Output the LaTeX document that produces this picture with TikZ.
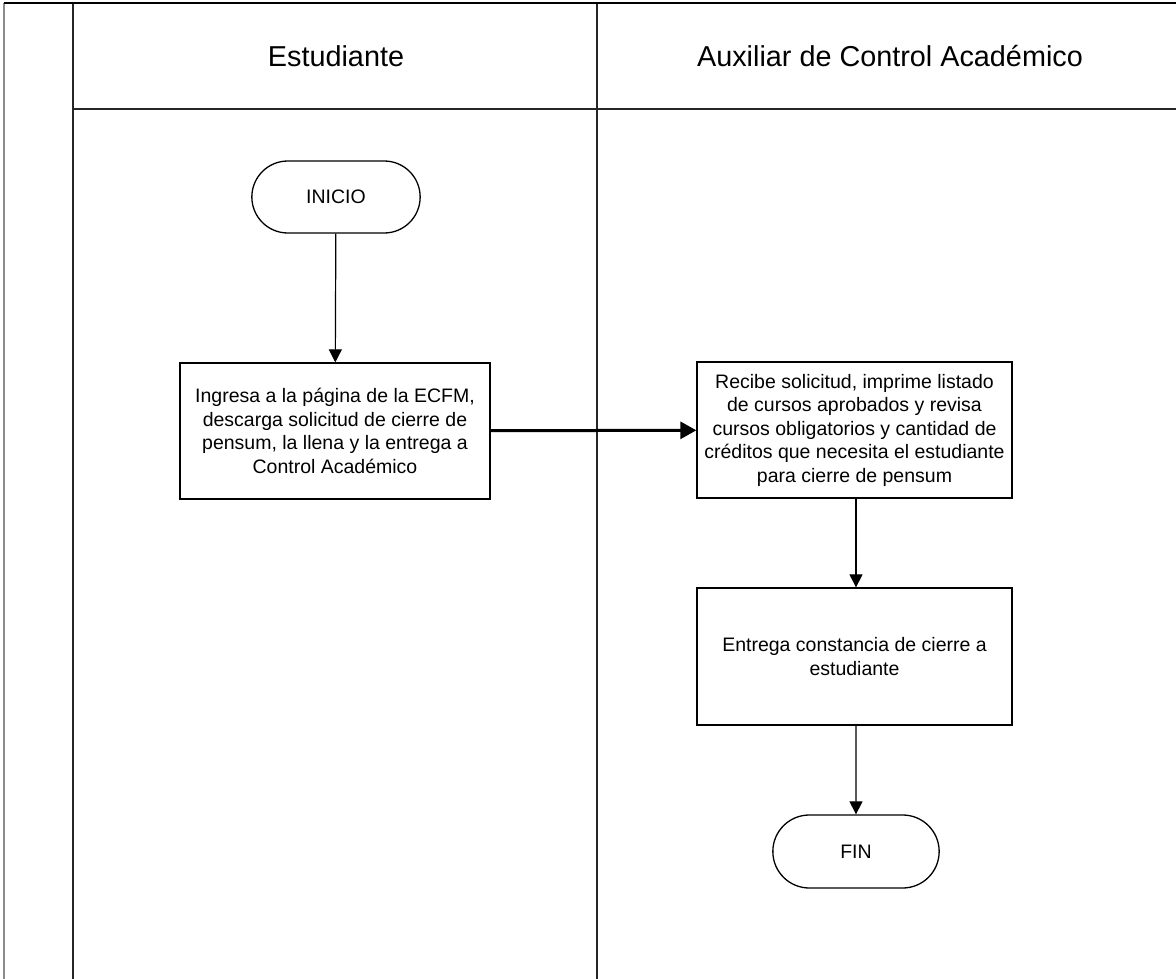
\documentclass[tikz,border=0pt]{standalone}
\usepackage{fontspec}
\setmainfont{Liberation Sans}
\usetikzlibrary{arrows.meta,shapes.misc}
\begin{document}
\begin{tikzpicture}[x=1pt,y=-1pt,
  lane/.style={line width=2pt,draw=black!85},
  proc/.style={draw,line width=1.3pt,rectangle,minimum width=310pt,minimum height=136pt,
    align=center,font=\fontsize{19.5pt}{23.5pt}\selectfont,inner sep=2pt},
  term/.style={draw,line width=1.3pt,rounded rectangle,minimum width=175pt,minimum height=72pt,
    font=\fontsize{19.5pt}{23.5pt}\selectfont},
  flow/.style={line width=1.2pt,-{Triangle[length=13pt,width=13pt]}},
  bigflow/.style={line width=3pt,-{Triangle[length=16pt,width=17pt]}},
  head/.style={font=\fontsize{28.8pt}{32pt}\selectfont}]
\useasboundingbox (0,0) rectangle (1176,979);
% swimlane frame
\draw[line width=2pt,draw=black!45] (4,3) -- (4,979);
\draw[lane] (73,3) -- (73,979);
\draw[lane] (597,3) -- (597,979);
\draw[line width=2.6pt] (4,3) -- (1176,3);
\draw[lane] (73,109) -- (1176,109);
% lane headings
\node[head] (h1) at (336,56) {Estudiante};
\node[head] (h2) at (890,56) {Auxiliar de Control Académico};
% steps
\node[term] (ini) at (336,197) {INICIO};
\node[proc,minimum width=310pt] (s1) at (335,431) {Ingresa a la página de la ECFM,\\descarga solicitud de cierre de\\pensum, la llena y la entrega a\\Control Académico};
\node[proc,minimum width=315pt] (s2) at (854.5,430) {Recibe solicitud, imprime listado\\de cursos aprobados y revisa\\cursos obligatorios y cantidad de\\créditos que necesita el estudiante\\para cierre de pensum};
\node[proc,minimum width=315pt,minimum height=137pt] (s3) at (854.5,656.5) {Entrega constancia de cierre a\\estudiante};
\node[term,minimum width=173pt,minimum height=73pt] (fin) at (856,851.5) {FIN};
% connectors
\draw[flow] (ini) -- (s1);
\draw[bigflow] (s1) -- (s2);
\draw[flow] (s2.south -| 856,0) -- (s3.north -| 856,0);
\draw[flow] (s3.south -| 856,0) -- (fin);
\end{tikzpicture}
\end{document}
